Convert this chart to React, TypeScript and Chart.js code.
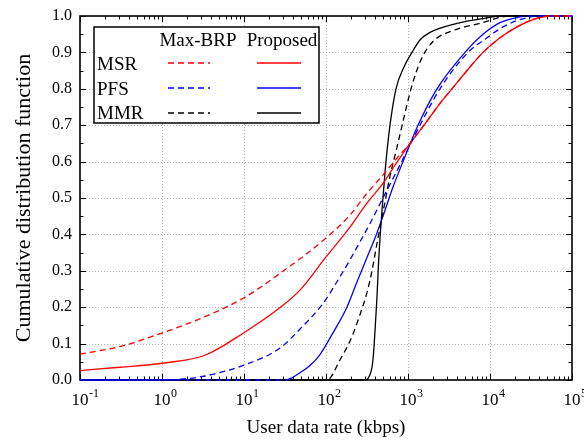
import { useEffect, useRef } from "react";
import { Chart, registerables } from "chart.js";

Chart.register(...registerables);

const X_MIN = 0.1;
const X_MAX = 100000;
const X_DECADES = [0.1, 1, 10, 100, 1000, 10000, 100000];
const X_EXPONENTS = ["-1", "0", "1", "2", "3", "4", "5"];
const Y_TICKS = [0, 0.1, 0.2, 0.3, 0.4, 0.5, 0.6, 0.7, 0.8, 0.9, 1.0];
const Y_TICK_LABELS = ["0.0", "0.1", "0.2", "0.3", "0.4", "0.5", "0.6", "0.7", "0.8", "0.9", "1.0"];

const X_TITLE = "User data rate (kbps)";
const Y_TITLE = "Cumulative distribution function";
const LEGEND_COLS = ["Max-BRP", "Proposed"];
const LEGEND_ROWS = ["MSR", "PFS", "MMR"];

// MSR, Max-BRP (dashed red)
const MSR_MAX_X = [0.1, 0.308, 1, 3.34, 10, 27.5, 100, 196, 316, 495, 735, 1057, 1567, 2455, 3741, 5702, 8222, 13240, 21330, 33420, 53950, 100000];
const MSR_MAX_Y = [0.071, 0.092, 0.129, 0.174, 0.226, 0.293, 0.39, 0.453, 0.513, 0.563, 0.61, 0.65, 0.7, 0.76, 0.81, 0.86, 0.9, 0.94, 0.97, 0.99, 1, 1];
// MSR, Proposed (solid red)
const MSR_PROP_X = [0.1, 0.308, 1, 3.34, 10, 27.5, 48.2, 100, 148, 196, 316, 495, 693, 1057, 1567, 2455, 3741, 5702, 8222, 13240, 21330, 33420, 53950, 100000];
const MSR_PROP_Y = [0.026, 0.035, 0.046, 0.068, 0.13, 0.199, 0.247, 0.338, 0.385, 0.42, 0.486, 0.54, 0.59, 0.65, 0.7, 0.76, 0.81, 0.86, 0.9, 0.94, 0.97, 0.99, 1, 1];
// PFS, Max-BRP (dashed blue)
const PFS_MAX_X = [0.1, 1, 1.66, 3.34, 10, 27.5, 48.2, 91.8, 136, 196, 260, 344, 495, 735, 1057, 1400, 2455, 5395, 9183, 14420, 23230, 40740, 100000];
const PFS_MAX_Y = [0, 0, 0.002, 0.011, 0.041, 0.088, 0.14, 0.21, 0.27, 0.33, 0.38, 0.43, 0.5, 0.575, 0.645, 0.7, 0.8, 0.9, 0.94, 0.97, 0.99, 1, 1];
// PFS, Proposed (solid blue)
const PFS_PROP_X = [0.1, 31.6, 38.5, 48.2, 63.8, 84.5, 122, 180, 239, 307, 396, 495, 656, 869, 1324, 2259, 4955, 8222, 13240, 21330, 30760, 100000];
const PFS_PROP_Y = [0, 0, 0.006, 0.02, 0.04, 0.07, 0.13, 0.2, 0.27, 0.33, 0.39, 0.45, 0.53, 0.6, 0.7, 0.8, 0.9, 0.95, 0.982, 0.996, 1, 1];
// MMR, Max-BRP (dashed black)
const MMR_MAX_X = [0.1, 103, 148, 208, 260, 316, 364, 407, 456, 525, 603, 735, 869, 1089, 1442, 2018, 3540, 7551, 17540, 100000];
const MMR_MAX_Y = [0, 0, 0.055, 0.12, 0.18, 0.24, 0.3, 0.36, 0.42, 0.49, 0.56, 0.64, 0.71, 0.8, 0.88, 0.93, 0.96, 0.98, 1, 1];
// MMR, Proposed (solid black)
const MMR_PROP_X = [0.1, 307, 344, 364, 379, 396, 419, 437, 462, 495, 539, 603, 714, 894, 1119, 1400, 1854, 3963, 9183, 13240, 100000];
const MMR_PROP_Y = [0, 0, 0.015, 0.035, 0.07, 0.135, 0.23, 0.32, 0.41, 0.5, 0.6, 0.7, 0.8, 0.86, 0.9, 0.934, 0.955, 0.98, 0.995, 1, 1];

const RED = "#ff0000";
const BLUE = "#0000ff";
const BLACK = "#000000";
const DASH = [6, 4];
const LINE_W = 1.3;
const FONT = "'Liberation Serif', 'Times New Roman', serif";

const pts = (xs: number[], ys: number[]) => xs.map((x, i) => ({ x, y: ys[i] }));

const axesPlugin = {
  id: "customAxes",
  beforeDatasetsDraw(chart: any) {
    const { ctx, chartArea, scales } = chart;
    const { left, right, top, bottom } = chartArea;
    const xs = scales.x;
    const ys = scales.y;
    ctx.save();
    // grid
    ctx.strokeStyle = "#b8b8b8";
    ctx.lineWidth = 1;
    ctx.setLineDash([1, 2]);
    X_DECADES.slice(1, -1).forEach((v) => {
      const px = Math.round(xs.getPixelForValue(v)) + 0.5;
      ctx.beginPath();
      ctx.moveTo(px, top);
      ctx.lineTo(px, bottom);
      ctx.stroke();
    });
    Y_TICKS.slice(1, -1).forEach((v) => {
      const py = Math.round(ys.getPixelForValue(v)) + 0.5;
      ctx.beginPath();
      ctx.moveTo(left, py);
      ctx.lineTo(right, py);
      ctx.stroke();
    });
    ctx.setLineDash([]);
    // ticks
    ctx.strokeStyle = "#000";
    ctx.lineWidth = 1;
    ctx.beginPath();
    X_DECADES.forEach((d, di) => {
      const mults = di === X_DECADES.length - 1 ? [1] : [1, 2, 3, 4, 5, 6, 7, 8, 9];
      mults.forEach((m) => {
        const px = Math.round(xs.getPixelForValue(d * m)) + 0.5;
        const len = m === 1 ? 6 : 3.5;
        ctx.moveTo(px, bottom);
        ctx.lineTo(px, bottom - len);
        ctx.moveTo(px, top);
        ctx.lineTo(px, top + len);
      });
    });
    for (let i = 0; i <= 20; i++) {
      const py = Math.round(ys.getPixelForValue(i * 0.05)) + 0.5;
      const len = i % 2 === 0 ? 6 : 3.5;
      ctx.moveTo(left, py);
      ctx.lineTo(left + len, py);
      ctx.moveTo(right, py);
      ctx.lineTo(right - len, py);
    }
    ctx.stroke();
    // frame
    ctx.lineWidth = 1.6;
    ctx.strokeRect(left, top, right - left, bottom - top);
    // tick labels
    ctx.fillStyle = "#000";
    ctx.font = `16px ${FONT}`;
    ctx.textAlign = "right";
    ctx.textBaseline = "middle";
    Y_TICKS.forEach((v, i) => {
      ctx.fillText(Y_TICK_LABELS[i], left - 8, ys.getPixelForValue(v));
    });
    ctx.textBaseline = "alphabetic";
    X_DECADES.forEach((v, i) => {
      const px = xs.getPixelForValue(v);
      ctx.font = `17px ${FONT}`;
      ctx.textAlign = "center";
      ctx.fillText("10", px, bottom + 25);
      ctx.font = `12px ${FONT}`;
      ctx.textAlign = "left";
      ctx.fillText(X_EXPONENTS[i], px + 9, bottom + 17);
    });
    // titles
    ctx.font = `19px ${FONT}`;
    ctx.textAlign = "center";
    ctx.textBaseline = "middle";
    ctx.fillText(X_TITLE, (left + right) / 2, bottom + 48);
    ctx.save();
    ctx.translate(24, (top + bottom) / 2);
    ctx.rotate(-Math.PI / 2);
    ctx.font = `22px ${FONT}`;
    ctx.fillText(Y_TITLE, 0, 0);
    ctx.restore();
    ctx.restore();
  },
  afterDraw(chart: any) {
    const { ctx } = chart;
    ctx.save();
    // legend box
    ctx.fillStyle = "#fff";
    ctx.fillRect(94, 27, 225, 96);
    ctx.strokeStyle = "#000";
    ctx.lineWidth = 1.5;
    ctx.strokeRect(94, 27, 225, 96);
    ctx.fillStyle = "#000";
    ctx.font = `19px ${FONT}`;
    ctx.textBaseline = "alphabetic";
    ctx.textAlign = "center";
    ctx.fillText(LEGEND_COLS[0], 198, 46);
    ctx.fillText(LEGEND_COLS[1], 282, 46);
    ctx.textAlign = "left";
    const rowBase = [70, 95, 119];
    const rowLine = [63, 88, 113];
    const colors = [RED, BLUE, BLACK];
    LEGEND_ROWS.forEach((label, i) => {
      ctx.fillStyle = "#000";
      ctx.fillText(label, 97, rowBase[i]);
      ctx.strokeStyle = colors[i];
      ctx.lineWidth = 1.5;
      ctx.setLineDash(DASH);
      ctx.beginPath();
      ctx.moveTo(168, rowLine[i]);
      ctx.lineTo(210, rowLine[i]);
      ctx.stroke();
      ctx.setLineDash([]);
      ctx.beginPath();
      ctx.moveTo(257, rowLine[i]);
      ctx.lineTo(301, rowLine[i]);
      ctx.stroke();
    });
    ctx.restore();
  },
};

export default function App() {
  const canvasRef = useRef<HTMLCanvasElement | null>(null);

  useEffect(() => {
    const canvas = canvasRef.current;
    if (!canvas) return;
    const mk = (label: string, xs: number[], ys: number[], color: string, dashed: boolean) => ({
      label,
      data: pts(xs, ys),
      borderColor: color,
      backgroundColor: color,
      borderWidth: LINE_W,
      borderDash: dashed ? DASH : [],
      pointRadius: 0,
      fill: false,
      cubicInterpolationMode: "monotone" as const,
      clip: 2,
    });
    const chart = new Chart(canvas, {
      type: "line",
      data: {
        datasets: [
          mk("MSR Max-BRP", MSR_MAX_X, MSR_MAX_Y, RED, true),
          mk("PFS Max-BRP", PFS_MAX_X, PFS_MAX_Y, BLUE, true),
          mk("MMR Max-BRP", MMR_MAX_X, MMR_MAX_Y, BLACK, true),
          mk("MSR Proposed", MSR_PROP_X, MSR_PROP_Y, RED, false),
          mk("PFS Proposed", PFS_PROP_X, PFS_PROP_Y, BLUE, false),
          mk("MMR Proposed", MMR_PROP_X, MMR_PROP_Y, BLACK, false),
        ],
      },
      options: {
        responsive: false,
        animation: false,
        devicePixelRatio: 1,
        layout: { padding: { left: 80, top: 16, right: 12, bottom: 61 } },
        plugins: { legend: { display: false }, tooltip: { enabled: false } },
        scales: {
          x: { type: "logarithmic", min: X_MIN, max: X_MAX, display: false },
          y: { type: "linear", min: 0, max: 1, display: false },
        },
      },
      plugins: [axesPlugin],
    });
    return () => chart.destroy();
  }, []);

  return (
    <div style={{ position: "fixed", left: 0, top: 0, width: 584, height: 441, background: "#fff" }}>
      <canvas ref={canvasRef} width={584} height={441} />
    </div>
  );
}
